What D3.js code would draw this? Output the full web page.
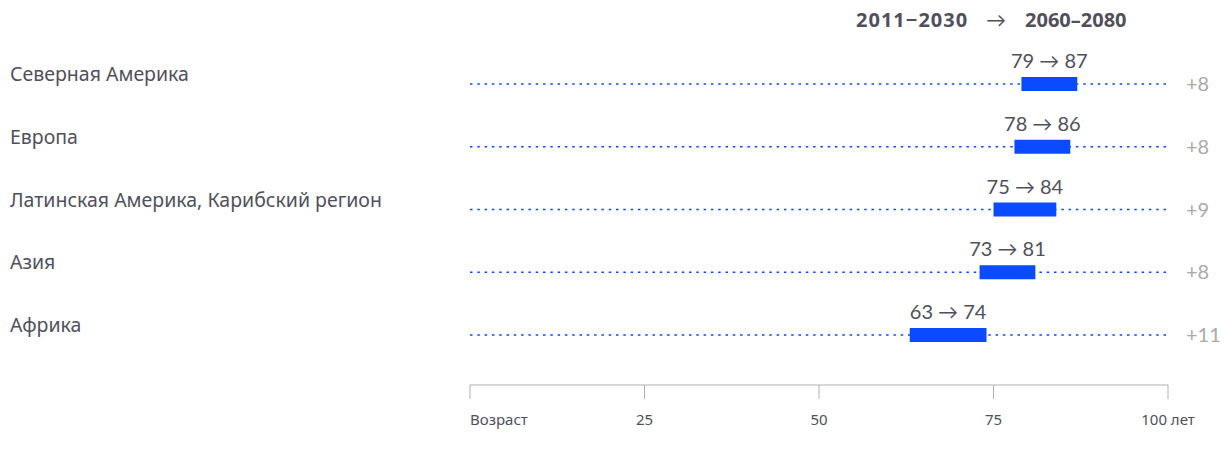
<!DOCTYPE html>
<html>
<head>
    <meta charset="utf-8">
    <script src="https://d3js.org/d3.v7.min.js"></script>
    <style>
        body { margin: 0; background: #fff; }
        text { font-family: "Noto Sans", "Open Sans", sans-serif; }
        .num { font-family: Lato, "DejaVu Sans", sans-serif; }
    </style>
</head>
<body>
    <div id="svg"></div>
    <script>
        var regions = ["Северная Америка", "Европа", "Латинская Америка, Карибский регион", "Азия", "Африка"];
        var ageFrom = [79, 78, 75, 73, 63];   // 2011–2030
        var ageTo = [87, 86, 84, 81, 74];     // 2060–2080
        var ticks = [0, 25, 50, 75, 100];
        var tickLabels = ["Возраст", "25", "50", "75", "100 лет"];

        var width = 1228, height = 456;
        var blue = "#0a4bff", textColor = "#50505c";

        var svg = d3.select("#svg")
            .append("svg")
            .attr("width", width)
            .attr("height", height);

        var x = d3.scaleLinear().domain([0, 100]).range([470, 1168]);
        var y = d3.scalePoint().domain(regions).range([84, 335]);

        // header
        var head = svg.append("text")
            .attr("y", 27)
            .style("font-size", "20px").style("font-weight", "bold")
            .style("fill", textColor);
        head.append("tspan").attr("x", 856).style("letter-spacing", "1px").text("2011−2030");
        head.append("tspan").attr("class", "num").attr("x", 986).style("font-weight", "normal").text("→");
        head.append("tspan").attr("x", 1025).text("2060–2080");

        var rows = svg.selectAll(".row")
            .data(regions)
            .enter()
            .append("g")
            .attr("class", "row")
            .attr("transform", function (d) { return "translate(0," + y(d) + ")"; });

        rows.append("text")
            .attr("x", 10).attr("y", -3)
            .style("font-size", "19.5px")
            .style("fill", textColor)
            .text(function (d) { return d; });

        rows.append("line")
            .attr("x1", x(0)).attr("x2", x(100))
            .attr("stroke", blue)
            .attr("stroke-width", 1.3)
            .attr("stroke-dasharray", "2.5,4.8");

        rows.append("rect")
            .attr("x", function (d, i) { return x(ageFrom[i]); })
            .attr("width", function (d, i) { return x(ageTo[i]) - x(ageFrom[i]); })
            .attr("y", -7).attr("height", 14)
            .attr("fill", blue);

        rows.append("text")
            .attr("class", "num")
            .attr("x", function (d, i) { return (x(ageFrom[i]) + x(ageTo[i])) / 2; })
            .attr("y", -16)
            .attr("text-anchor", "middle")
            .style("font-size", "20px")
            .style("fill", textColor)
            .text(function (d, i) { return ageFrom[i] + " → " + ageTo[i]; });

        rows.append("text")
            .attr("class", "num")
            .attr("x", 1186).attr("y", 7)
            .style("font-size", "20px")
            .style("fill", "#aaaaaa")
            .text(function (d, i) { return "+" + (ageTo[i] - ageFrom[i]); });

        // axis
        var axis = svg.append("g").attr("transform", "translate(0,385)");
        axis.append("line")
            .attr("x1", x(0)).attr("x2", x(100))
            .attr("stroke", "#b0b0b0");
        axis.selectAll(".tick")
            .data(ticks)
            .enter()
            .append("line")
            .attr("x1", function (d) { return x(d); })
            .attr("x2", function (d) { return x(d); })
            .attr("y1", 0).attr("y2", 14)
            .attr("stroke", "#b0b0b0");
        axis.selectAll(".tl")
            .data(ticks)
            .enter()
            .append("text")
            .attr("x", function (d) { return x(d); })
            .attr("y", 40)
            .attr("text-anchor", function (d, i) { return i == 0 ? "start" : "middle"; })
            .style("font-size", "15px")
            .style("fill", textColor)
            .text(function (d, i) { return tickLabels[i]; });
    </script>
</body>
</html>
